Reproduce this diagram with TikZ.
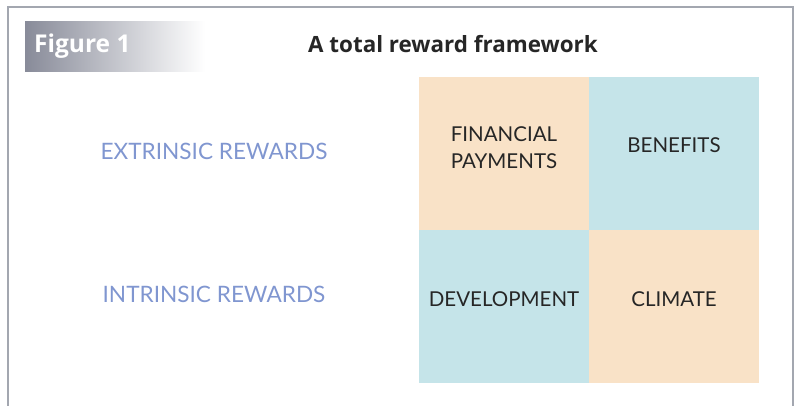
\documentclass[tikz,border=0pt]{standalone}
\usepackage{fontspec}
\setmainfont{Lato}
\newfontfamily\headfont{Open Sans}
\usetikzlibrary{positioning}

\definecolor{peach}{RGB}{249,226,199}
\definecolor{paleblue}{RGB}{197,228,233}
\definecolor{rewardblue}{RGB}{128,150,208}
\definecolor{framegray}{RGB}{163,167,176}
\definecolor{figgray}{RGB}{136,139,153}
\definecolor{inkdark}{RGB}{38,38,38}

\begin{document}
\begin{tikzpicture}[x=1pt, y=-1pt, node distance = 0pt]
				\tikzstyle{cell} = [draw=none, inner sep=0pt, minimum width=170pt, minimum height=153pt]
				\tikzstyle{celltext} = [draw=none, align=center, text=inkdark, font=\fontsize{20.5}{27}\selectfont]
				\tikzstyle{side} = [draw=none, text=rewardblue, font=\fontsize{22.6}{26}\selectfont]
				\tikzstyle{head} = [draw=none, inner sep=0pt, anchor=base west]
				
				\useasboundingbox (0,0) rectangle (798,406);
				
				% frame, open at the bottom
				\draw[framegray, line width=1.5pt] (8,406) -- (8,7) -- (793,7) -- (793,406);
				
				% figure tab
				\shade[left color=figgray, right color=white] (25,22) rectangle (205,72);
				\node[head, text=white, font=\headfont\fontsize{24.5}{28}\selectfont\bfseries] 	at (34,53) 	(fig) 	{Figure 1};
				\node[head, text=inkdark, font=\headfont\fontsize{22.4}{28}\selectfont\bfseries] 	at (308,53) 	(title) 	{A total reward framework};
				
				% the four cells
				\node[cell, fill=peach] 	at (504,153.5) 	(fin) 	{};
				\node[cell, fill=paleblue, right=of fin] 		(ben) 	{};
				\node[cell, fill=paleblue, below=of fin] 		(dev) 	{};
				\node[cell, fill=peach, right=of dev] 		(cli) 	{};
				
				\node[celltext] 	at (504,148) 	(fintext) 	{FINANCIAL\\PAYMENTS};
				\node[celltext] 	at (674,145) 	(bentext) 	{BENEFITS};
				\node[celltext] 	at (504,299) 	(devtext) 	{DEVELOPMENT};
				\node[celltext] 	at (674,299) 	(clitext) 	{CLIMATE};
				
				% row labels
				\node[side] 	at (214,151) 	(extr) 	{EXTRINSIC REWARDS};
				\node[side] 	at (214,294) 	(intr) 	{INTRINSIC REWARDS};
				\end{tikzpicture}
\end{document}
